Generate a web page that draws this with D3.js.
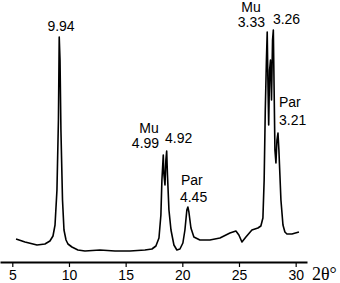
<!DOCTYPE html>
<meta charset="utf-8">
<script src="https://cdn.jsdelivr.net/npm/d3@7"></script>
<style>
body { margin: 0; background: #fff; }
svg { display: block; }
.lbl { font-family: "Liberation Sans", Arial, sans-serif; font-size: 14px; fill: #000; }
.axis text { font-family: "Liberation Sans", Arial, sans-serif; font-size: 14px; }
</style>
<body>
</body>
<script>
// XRD trace (2theta in degrees, intensity in arbitrary units)
var twoTheta = [5.33, 6.12, 7.18, 7.88, 8.32, 8.59, 8.77, 8.94, 9.07, 9.14, 9.21, 9.29, 9.43, 9.56, 9.74, 9.91,
  10.26, 10.79, 11.41, 12.73, 14.06, 15.38, 16.70, 17.32, 17.67, 17.94, 18.11, 18.20, 18.32, 18.38, 18.47,
  18.55, 18.62, 18.69, 18.82, 19.00, 19.26, 19.52, 19.79, 20.05, 20.23, 20.40, 20.49, 20.58, 20.76, 21.02,
  21.55, 22.43, 23.32, 24.20, 24.73, 24.99, 25.26, 25.61, 26.14, 26.67, 26.93, 27.11, 27.22, 27.32, 27.42,
  27.49, 27.55, 27.62, 27.70, 27.78, 27.87, 27.96, 28.03, 28.10, 28.17, 28.26, 28.35, 28.44, 28.52, 28.61,
  28.70, 28.88, 29.05, 29.23, 29.67, 30.29];
var intensity = [23, 20, 17, 18, 21, 26, 37, 72, 142, 225, 202, 132, 62, 32, 22, 18,
  15, 12, 11, 12, 11, 11, 12, 13, 16, 24, 47, 82, 107, 87, 77,
  102, 111, 87, 52, 32, 17, 12, 13, 19, 32, 52, 55, 50, 34, 25,
  22, 22, 24, 29, 31, 27, 20, 25, 32, 34, 36, 44, 82, 152, 202,
  230, 182, 137, 192, 202, 162, 222, 232, 172, 112, 99, 122, 129, 112, 87,
  62, 37, 30, 28, 28, 30];

var tickValues = [5, 10, 15, 20, 25, 30];

// peak annotations: text, 2theta, intensity level, anchor
var annText   = ["9.94", "Mu", "4.99", "4.92", "Par", "4.45", "Mu", "3.33", "3.26", "Par", "3.21"];
var annTheta  = [9.30, 17.06, 16.75, 18.47, 19.88, 19.79, 26.06, 26.10, 27.99, 28.53, 28.53];
var annLevel  = [231, 129, 114, 119, 77, 60, 250, 235, 238, 155, 137];
var annAnchor = ["middle", "middle", "middle", "start", "start", "start", "middle", "middle", "start", "start", "start"];

var width = 340, height = 283;
var axisY = 262;

var svg = d3.select("body").append("svg")
    .attr("width", width)
    .attr("height", height);

var x = d3.scaleLinear()
    .domain([3.915, 31.0])
    .range([0, 307]);

var y = d3.scaleLinear()
    .domain([0, 262])
    .range([axisY, 0]);

var xAxis = d3.axisBottom(x)
    .tickValues(tickValues)
    .tickSize(5)
    .tickSizeOuter(0)
    .tickPadding(3);

var gx = svg.append("g")
    .attr("class", "axis")
    .attr("transform", "translate(0," + axisY + ")")
    .call(xAxis);
gx.select(".domain").attr("stroke-width", 2);
gx.selectAll(".tick line").attr("stroke-width", 1.2);
gx.selectAll(".tick text").attr("fill", "#000");

svg.append("text")
    .attr("x", 312)
    .attr("y", 280)
    .attr("font-family", "'Liberation Serif', 'Times New Roman', serif")
    .attr("font-size", "18px")
    .text("2θ°");

var line = d3.line()
    .x(function(d, i) { return x(twoTheta[i]); })
    .y(function(d) { return y(d); });

svg.append("path")
    .datum(intensity)
    .attr("fill", "none")
    .attr("stroke", "#000")
    .attr("stroke-width", 1.6)
    .attr("stroke-linejoin", "round")
    .attr("d", line);

svg.selectAll(".lbl")
    .data(annText)
    .enter().append("text")
    .attr("class", "lbl")
    .attr("x", function(d, i) { return x(annTheta[i]); })
    .attr("y", function(d, i) { return y(annLevel[i]); })
    .attr("text-anchor", function(d, i) { return annAnchor[i]; })
    .text(function(d) { return d; });
</script>
